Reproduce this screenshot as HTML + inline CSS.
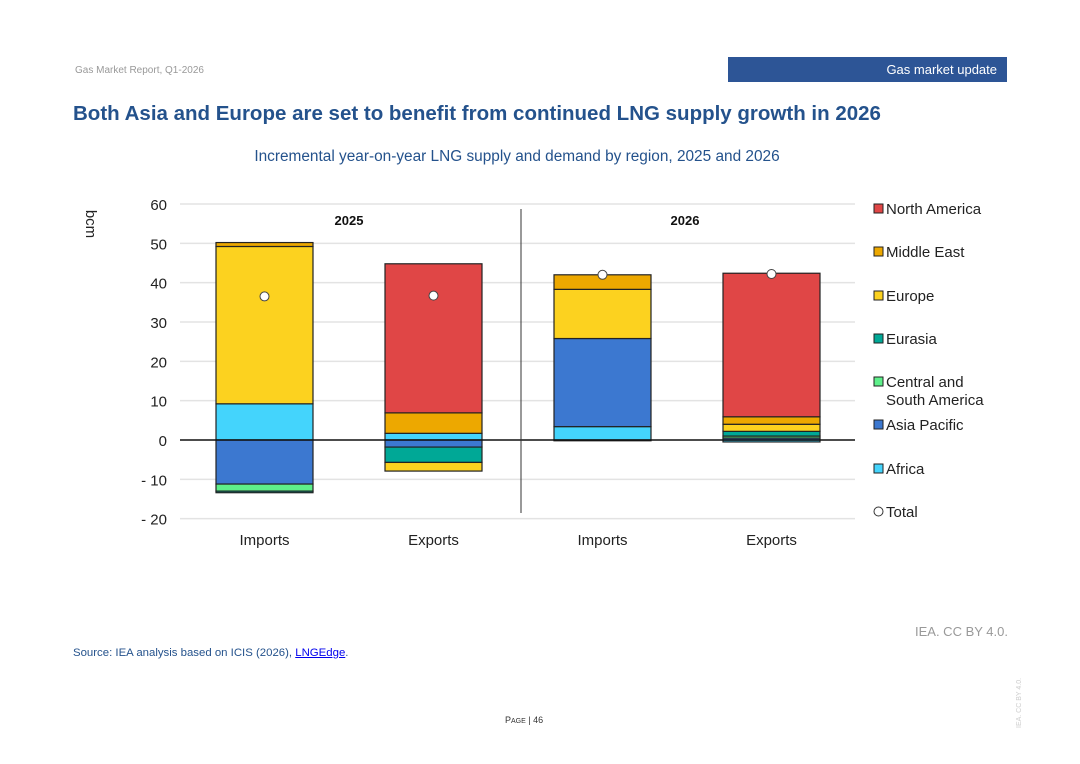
<!DOCTYPE html>
<html><head><meta charset="utf-8"><style>
body{margin:0;width:1080px;height:764px;background:#fff;font-family:"Liberation Sans",sans-serif;position:relative;overflow:hidden}
.a{position:absolute}
</style></head><body>
<div class="a" style="left:75px;top:65px;font-size:10px;color:#999">Gas Market Report, Q1-2026</div>
<div class="a" style="left:728px;top:57px;width:279px;height:25px;background:#2d5596;color:#fff;font-size:13px;line-height:25px;text-align:right;box-sizing:border-box;padding-right:10px">Gas market update</div>
<div class="a" style="left:73px;top:102px;font-size:20.5px;font-weight:bold;color:#24528c">Both Asia and Europe are set to benefit from continued LNG supply growth in 2026</div>
<div class="a" style="left:0;width:1034px;top:148px;font-size:15.4px;color:#24528c;text-align:center">Incremental year-on-year LNG supply and demand by region, 2025 and 2026</div>
<svg class="a" style="left:0;top:0" width="1080" height="764" id="chart"></svg>
<div class="a" style="left:915px;top:624px;font-size:13px;color:#999">IEA. CC BY 4.0.</div>
<div class="a" style="left:73px;top:647px;font-size:11.4px;color:#24528c">Source: IEA analysis based on ICIS (2026), <span style="color:#00e;text-decoration:underline">LNGEdge</span>.</div>
<div class="a" style="left:505px;top:715px;font-size:9px;color:#333">P<span style="font-size:7px">AGE</span> | 46</div>
<div class="a" style="left:1016px;top:728px;font-size:7px;color:#ccc;transform:rotate(-90deg);transform-origin:left top;white-space:nowrap">IEA. CC BY 4.0.</div>
<script>
const categories=["Imports","Exports","Imports","Exports"];
const years=["2025","2026"];
const seriesNames=["Africa","Asia Pacific","Central and South America","Eurasia","Europe","Middle East","North America"];
const africa=[9.2,1.7,3.4,-0.5];
const asiaPacific=[-11.2,-1.8,22.4,0.5];
const centralSouthAmerica=[-1.8,0,0,0.5];
const eurasia=[-0.4,-3.9,-0.2,1.2];
const europe=[40,-2.2,12.5,1.8];
const middleEast=[1,5.2,3.7,1.9];
const northAmerica=[0,37.9,0,36.5];
const totals=[36.5,36.7,42,42.2];
const yTicks=[60,50,40,30,20,10,0,-10,-20];
const yTickLabels=["60","50","40","30","20","10","0","- 10","- 20"];
const legendNames=["North America","Middle East","Europe","Eurasia","Central and|South America","Asia Pacific","Africa","Total"];
const colors=["#44d4fc","#3c78d0","#5ef08a","#00a896","#fcd21f","#eda800","#e04646"];
const legendColors=["#e04646","#eda800","#fcd21f","#00a896","#5ef08a","#3c78d0","#44d4fc"];
const svg=document.getElementById('chart');const NS="http://www.w3.org/2000/svg";
function y(v){return 440-v*(236/60);}
function x(i){return 216+i*169;}
const BW=97;
function mk(t,a,p){const e=document.createElementNS(NS,t);for(const k in a)e.setAttribute(k,a[k]);(p||svg).appendChild(e);return e;}
yTicks.forEach((t,i)=>{
 if(t!==0){const l=mk('line',{x1:180,x2:855,y1:y(t),y2:y(t),stroke:'#e3e3e3','stroke-width':1.5});
 
 }
 const tx=mk('text',{x:167,y:y(t)+6,'text-anchor':'end','font-size':15,fill:'#222'});tx.textContent=yTickLabels[i];
 
 
});
const yt=mk('text',{transform:'translate(86,224) rotate(90)','font-size':15,fill:'#222','text-anchor':'middle'});yt.textContent='bcm';


const series=[africa,asiaPacific,centralSouthAmerica,eurasia,europe,middleEast,northAmerica];
categories.forEach((c,i)=>{
 let pos=0,neg=0;
 series.forEach((s,k)=>{const v=s[i];if(!v)return;let a,b;if(v>0){a=pos;b=pos+v;pos=b;}else{a=neg;b=neg+v;neg=b;}
  const r=mk('rect',{x:x(i),width:BW,y:Math.min(y(a),y(b)),height:Math.abs(y(a)-y(b)),fill:colors[k],stroke:'#222','stroke-width':1.2});
  
  
 });
 const ct=mk('text',{x:x(i)+BW/2,y:545,'text-anchor':'middle','font-size':15,fill:'#222'});ct.textContent=c;
 
 
});
const zl=mk('line',{x1:180,x2:855,y1:440,y2:440,stroke:'#111','stroke-width':1.5});


totals.forEach((t,i)=>{const c=mk('circle',{cx:x(i)+BW/2,cy:y(t),r:4.5,fill:'#fff',stroke:'#444','stroke-width':1});
 
 });
const dv=mk('line',{x1:521,x2:521,y1:209,y2:513,stroke:'#333','stroke-width':1});


years.forEach((yr,i)=>{const t=mk('text',{x:349+i*336,y:225,'text-anchor':'middle','font-size':13,'font-weight':'bold',fill:'#111'});t.textContent=yr;
 
 });
const ly=[208,251,295,338,381,424,468,511];
legendNames.forEach((n,i)=>{
 const g=mk('g',{});
 
 
 if(i<7)mk('rect',{x:874,y:ly[i]-4,width:9,height:9,fill:legendColors[i],stroke:'#222','stroke-width':1},g);
 else mk('circle',{cx:878.5,cy:ly[i]+0.5,r:4.5,fill:'#fff',stroke:'#333'},g);
 n.split('|').forEach((p,j)=>{const t=mk('text',{x:886,y:ly[i]+6+j*18,'font-size':15,fill:'#222'},g);t.textContent=p;});
});
</script>
</body></html>
